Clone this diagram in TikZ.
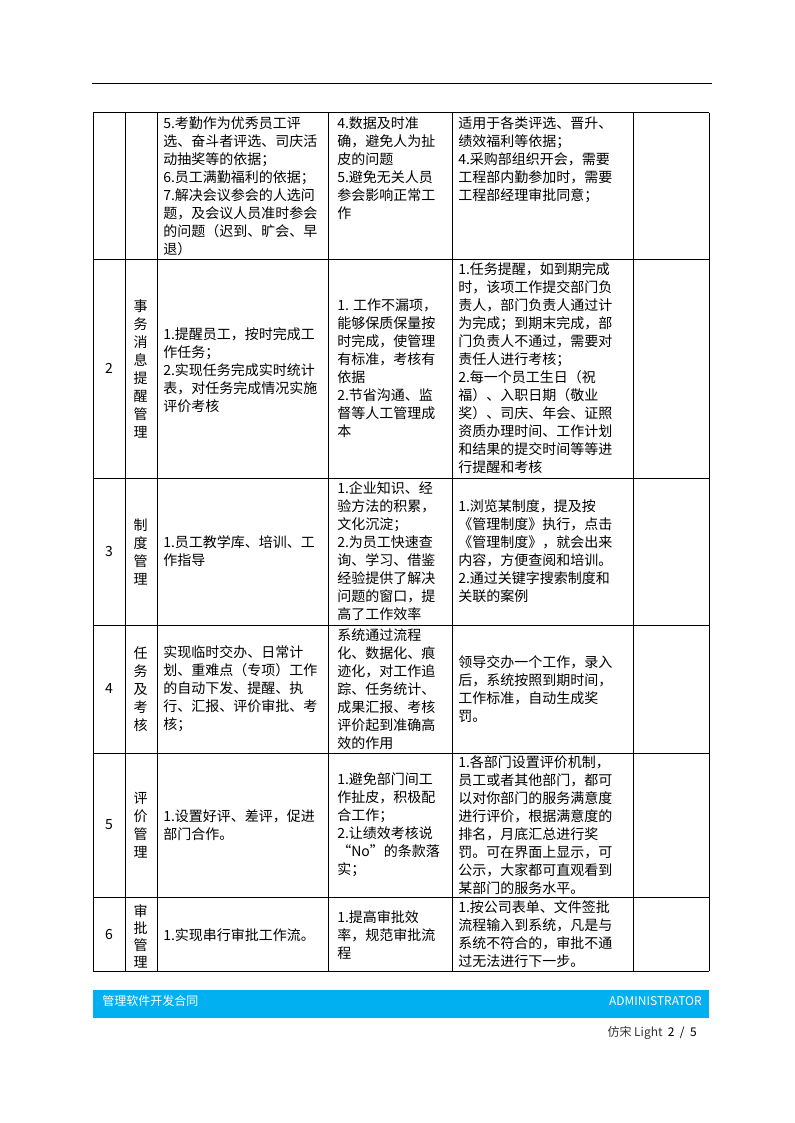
\documentclass[tikz,border=0pt]{standalone}
\usepackage{fontspec}
\setmainfont{Noto Sans CJK SC}
\definecolor{footerblue}{HTML}{00B0F0}
\definecolor{pagegray}{HTML}{333333}
\begin{document}
\begin{tikzpicture}[x=0.75pt,y=-0.75pt,
  gridline/.style={line width=0.75pt, black},
  txt/.style={font=\fontsize{10.5}{13.5}\selectfont, align=left, inner sep=0pt, anchor=west},
  txttop/.style={txt, anchor=north west},
  vert/.style={font=\fontsize{10.5}{13.5}\selectfont, align=center, inner sep=0pt},
  num/.style={font=\fontsize{10.5}{13.5}\selectfont, inner sep=0pt},
  foot/.style={font=\fontsize{9}{11}\selectfont, inner sep=0pt, text=white}
]
\useasboundingbox (0,0) rectangle (794,1123);
% header rule
\draw[gridline] (92,84) -- (712,84);
% table grid
\foreach \yy in {113,259,478,625,753,897,971} \draw[gridline] (93,\yy) -- (709,\yy);
\foreach \xx in {93,125,157,328,452,633,709} \draw[gridline] (\xx,113) -- (\xx,971);

% Row 1 (continued)
\node[txttop] (r1c3) at (163,116) {5.考勤作为优秀员工评\\选、奋斗者评选、司庆活\\动抽奖等的依据；\\6.员工满勤福利的依据；\\7.解决会议参会的人选问\\题，及会议人员准时参会\\的问题（迟到、旷会、早\\退）};
\node[txttop] (r1c4) at (337,116) {4.数据及时准\\确，避免人为扯\\皮的问题\\5.避免无关人员\\参会影响正常工\\作};
\node[txttop] (r1c5) at (458,116) {适用于各类评选、晋升、\\绩效福利等依据；\\4.采购部组织开会，需要\\工程部内勤参加时，需要\\工程部经理审批同意；};

% Row 2
\node[num] (r2c1) at (109,368.5) {2};
\node[vert] (r2c2) at (140.5,368.5) {事\\务\\消\\息\\提\\醒\\管\\理};
\node[txt] (r2c3) at (163,370) {1.提醒员工，按时完成工\\作任务；\\2.实现任务完成实时统计\\表，对任务完成情况实施\\评价考核};
\node[txt] (r2c4) at (337,368.5) {1. 工作不漏项，\\能够保质保量按\\时完成，使管理\\有标准，考核有\\依据\\2.节省沟通、监\\督等人工管理成\\本};
\node[txt] (r2c5) at (458,368.5) {1.任务提醒，如到期完成\\时，该项工作提交部门负\\责人，部门负责人通过计\\为完成；到期末完成，部\\门负责人不通过，需要对\\责任人进行考核；\\2.每一个员工生日（祝\\福）、入职日期（敬业\\奖）、司庆、年会、证照\\资质办理时间、工作计划\\和结果的提交时间等等进\\行提醒和考核};

% Row 3
\node[num] (r3c1) at (109,551.5) {3};
\node[vert] (r3c2) at (140.5,551.5) {制\\度\\管\\理};
\node[txt] (r3c3) at (163,551.5) {1.员工教学库、培训、工\\作指导};
\node[txt] (r3c4) at (337,551.5) {1.企业知识、经\\验方法的积累，\\文化沉淀；\\2.为员工快速查\\询、学习、借鉴\\经验提供了解决\\问题的窗口，提\\高了工作效率};
\node[txt] (r3c5) at (458,551.5) {1.浏览某制度，提及按\\《管理制度》执行，点击\\《管理制度》，就会出来\\内容，方便查阅和培训。\\2.通过关键字搜索制度和\\关联的案例};

% Row 4
\node[num] (r4c1) at (109,689) {4};
\node[vert] (r4c2) at (140.5,689) {任\\务\\及\\考\\核};
\node[txt] (r4c3) at (163,689) {实现临时交办、日常计\\划、重难点（专项）工作\\的自动下发、提醒、执\\行、汇报、评价审批、考\\核；};
\node[txt] (r4c4) at (337,689) {系统通过流程\\化、数据化、痕\\迹化，对工作追\\踪、任务统计、\\成果汇报、考核\\评价起到准确高\\效的作用};
\node[txt] (r4c5) at (458,689) {领导交办一个工作，录入\\后，系统按照到期时间，\\工作标准，自动生成奖\\罚。};

% Row 5
\node[num] (r5c1) at (109,825) {5};
\node[vert] (r5c2) at (140.5,825) {评\\价\\管\\理};
\node[txt] (r5c3) at (163,825) {1.设置好评、差评，促进\\部门合作。};
\node[txt] (r5c4) at (337,825) {1.避免部门间工\\作扯皮，积极配\\合工作；\\2.让绩效考核说\\“No”的条款落\\实；};
\node[txt] (r5c5) at (458,825) {1.各部门设置评价机制，\\员工或者其他部门，都可\\以对你部门的服务满意度\\进行评价，根据满意度的\\排名，月底汇总进行奖\\罚。可在界面上显示，可\\公示，大家都可直观看到\\某部门的服务水平。};

% Row 6
\node[num] (r6c1) at (109,934) {6};
\node[vert, font=\fontsize{10.5}{12.75}\selectfont] (r6c2) at (140.5,936) {审\\批\\管\\理};
\node[txt] (r6c3) at (163,935) {1.实现串行审批工作流。};
\node[txt] (r6c4) at (337,935) {1.提高审批效\\率，规范审批流\\程};
\node[txt] (r6c5) at (458,934) {1.按公司表单、文件签批\\流程输入到系统，凡是与\\系统不符合的，审批不通\\过无法进行下一步。};

% footer
\fill[footerblue] (93,990) rectangle (709,1018);
\node[foot, anchor=west] (ftitle) at (102,1001) {管理软件开发合同};
\node[foot, anchor=east] (fadmin) at (702,1001) {ADMINISTRATOR};
\node[inner sep=0pt, anchor=east, font=\fontsize{9}{11}\selectfont, text=pagegray] (fpage) at (697,1033) {仿宋 Light\ \ \textcolor{black}{2\ \ /\ \ 5}};
\end{tikzpicture}
\end{document}
